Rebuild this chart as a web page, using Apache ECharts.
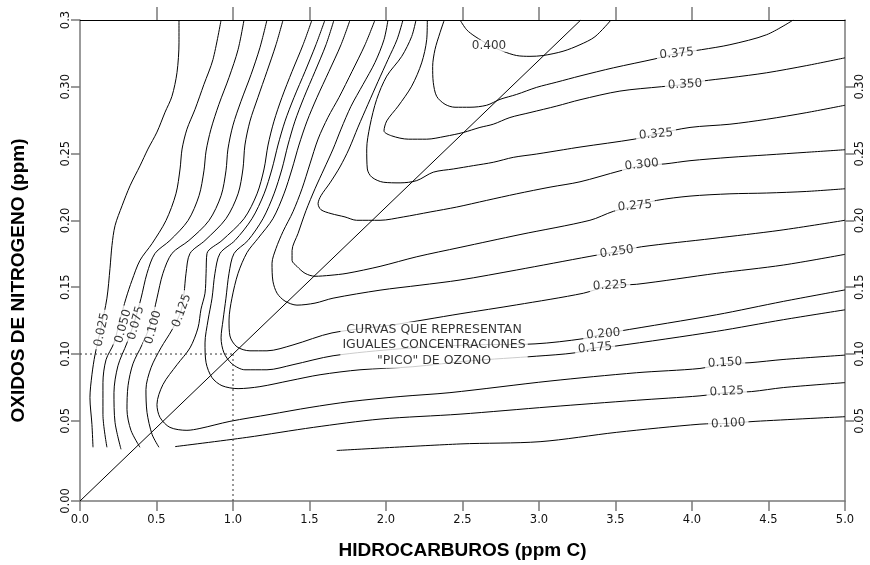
<!DOCTYPE html>
<html><head><meta charset="utf-8">
<script src="https://cdn.jsdelivr.net/npm/echarts@6/dist/echarts.min.js"></script>
<style>html,body{margin:0;padding:0;background:#fff}#c{width:870px;height:565px}</style>
</head><body><div id="c"></div>
<script>
// ---- axis ticks ----
const xTicks = [0,0.5,1,1.5,2,2.5,3,3.5,4,4.5,5];
const yTickValues = [-0.01,0.05,0.10,0.15,0.20,0.25,0.30,0.35];
const yTickLabels = ['0.00','0.05','0.10','0.15','0.20','0.25','0.30','0.3'];
const yRightValues = [0.05,0.10,0.15,0.20,0.25,0.30];

// ---- contour lines (HC ppmC, NOx ppm) ----
const c025 = [[0.647,0.35],[0.647,0.333],[0.634,0.3107],[0.601,0.2929],[0.556,0.281],[0.503,0.2661],[0.444,0.2534],[0.392,0.2408],[0.327,0.2259],[0.275,0.211],[0.229,0.1961],[0.209,0.1813],[0.196,0.1641],[0.176,0.1418],[0.137,0.1195],[0.098,0.0994],[0.078,0.0845],[0.065,0.0674],[0.078,0.0473],[0.085,0.0302]];
const c050 = [[0.922,0.35],[0.869,0.3204],[0.810,0.3018],[0.752,0.2832],[0.699,0.2683],[0.667,0.2534],[0.654,0.2385],[0.627,0.2199],[0.562,0.1999],[0.471,0.1827],[0.392,0.1701],[0.340,0.1552],[0.301,0.1418],[0.261,0.1254],[0.222,0.1083],[0.170,0.0957],[0.150,0.0786],[0.150,0.0548],[0.176,0.0302]];
const c075 = [[1.072,0.35],[1.033,0.3278],[0.974,0.307],[0.908,0.2869],[0.856,0.2683],[0.824,0.2519],[0.810,0.2371],[0.778,0.2185],[0.706,0.1999],[0.588,0.185],[0.490,0.1753],[0.438,0.1604],[0.399,0.1418],[0.359,0.1254],[0.307,0.1083],[0.248,0.0912],[0.222,0.0711],[0.229,0.0488],[0.268,0.0287]];
const c100 = [[1.222,0.35],[1.176,0.3293],[1.118,0.3092],[1.052,0.2891],[1.000,0.2713],[0.967,0.2534],[0.954,0.2371],[0.922,0.2185],[0.843,0.1999],[0.712,0.185],[0.601,0.1753],[0.542,0.1604],[0.503,0.1418],[0.464,0.1232],[0.405,0.1068],[0.346,0.0927],[0.314,0.0763],[0.307,0.0585],[0.333,0.0429],[0.392,0.0302]];
const c100b = [[1.678,0.0278],[2.484,0.0327],[3.007,0.0344],[3.508,0.0414],[4.052,0.0475],[4.237,0.0481],[4.412,0.0496],[5.0,0.0531]];
const c125 = [[1.327,0.35],[1.281,0.3315],[1.222,0.3115],[1.163,0.2921],[1.111,0.2743],[1.078,0.2564],[1.065,0.2385],[1.033,0.2199],[0.954,0.2013],[0.817,0.185],[0.719,0.1753],[0.693,0.1604],[0.680,0.1455],[0.660,0.1321],[0.601,0.118],[0.529,0.1046],[0.464,0.0897],[0.431,0.0734],[0.438,0.0563],[0.471,0.0399],[0.516,0.0302]];
const c125b = [[0.621,0.0307],[1.090,0.0376],[1.525,0.0451],[1.961,0.0513],[2.484,0.055],[3.072,0.0605],[3.638,0.0654],[4.052,0.0687],[4.227,0.0711],[4.390,0.0719],[4.597,0.0749],[5.0,0.0786]];
const c150 = [[1.516,0.35],[1.458,0.3315],[1.386,0.3115],[1.320,0.2921],[1.268,0.2743],[1.229,0.2564],[1.203,0.2385],[1.157,0.2199],[1.072,0.2013],[0.928,0.185],[0.830,0.1753],[0.824,0.1604],[0.817,0.1455],[0.791,0.1336],[0.771,0.1195],[0.719,0.1046],[0.634,0.092],[0.542,0.0771],[0.503,0.0622],[0.523,0.0525],[0.588,0.0451],[0.699,0.0429],[0.784,0.0443],[0.980,0.0496],[1.242,0.0548],[1.503,0.06],[1.765,0.0644],[2.092,0.0682],[2.418,0.0711],[3.072,0.0798],[3.638,0.086],[4.052,0.0892],[4.216,0.0927],[4.379,0.0935],[4.595,0.0959],[5.0,0.0992]];
const c175 = [[1.601,0.35],[1.542,0.3315],[1.471,0.3115],[1.399,0.2921],[1.340,0.2743],[1.294,0.2564],[1.255,0.2385],[1.203,0.2199],[1.124,0.2013],[1.013,0.185],[0.915,0.1753],[0.882,0.1604],[0.863,0.1418],[0.837,0.1254],[0.817,0.1083],[0.824,0.0935],[0.863,0.0823],[0.928,0.0763],[1.033,0.0741],[1.176,0.0756],[1.373,0.0801],[1.569,0.0845],[1.830,0.0882],[2.176,0.0905],[2.549,0.0949],[2.985,0.0984],[3.235,0.1009],[3.366,0.1046],[3.497,0.1059],[4.161,0.117],[4.597,0.1257],[5.0,0.1331]];
const c200 = [[1.660,0.35],[1.608,0.3315],[1.536,0.3115],[1.464,0.2921],[1.405,0.2743],[1.359,0.2564],[1.320,0.2385],[1.268,0.2199],[1.196,0.2013],[1.098,0.185],[1.007,0.1753],[0.974,0.1604],[0.954,0.1418],[0.935,0.1254],[0.922,0.1121],[0.941,0.1009],[0.993,0.0927],[1.078,0.0882],[1.222,0.0882],[1.392,0.092],[1.654,0.0987],[2.092,0.1039],[2.549,0.1068],[2.974,0.1076],[3.290,0.1115],[3.420,0.115],[3.518,0.117],[4.161,0.1294],[4.597,0.1394],[5.0,0.148]];
const c225 = [[1.765,0.35],[1.706,0.3315],[1.627,0.3115],[1.549,0.2921],[1.484,0.2743],[1.431,0.2564],[1.386,0.2385],[1.333,0.2199],[1.261,0.2013],[1.163,0.1865],[1.092,0.176],[1.033,0.1604],[0.993,0.1418],[0.974,0.1254],[0.980,0.1135],[1.026,0.1054],[1.111,0.1024],[1.222,0.1024],[1.392,0.1068],[1.647,0.1158],[2.039,0.1217],[2.484,0.1301],[2.854,0.1368],[3.290,0.1455],[3.464,0.1513],[3.638,0.1522],[4.161,0.1604],[4.597,0.1666],[5.0,0.1746]];
const c250 = [[1.928,0.35],[1.863,0.3315],[1.778,0.3115],[1.693,0.2921],[1.621,0.2772],[1.556,0.2609],[1.503,0.2423],[1.451,0.2237],[1.392,0.2065],[1.327,0.1917],[1.281,0.179],[1.255,0.1679],[1.261,0.1545],[1.288,0.1455],[1.340,0.1396],[1.418,0.1366],[1.536,0.1381],[1.654,0.1418],[1.961,0.1478],[2.222,0.1515],[2.484,0.1554],[2.854,0.1629],[3.333,0.1731],[3.508,0.1766],[3.671,0.1803],[4.137,0.1865],[4.575,0.1926],[5.0,0.2001]];
const c275 = [[2.013,0.35],[1.987,0.3353],[1.928,0.3182],[1.850,0.3018],[1.771,0.2854],[1.706,0.2683],[1.654,0.2534],[1.595,0.2385],[1.536,0.2237],[1.477,0.2073],[1.425,0.1902],[1.386,0.1775],[1.386,0.1701],[1.418,0.1656],[1.471,0.1604],[1.536,0.1582],[1.634,0.1589],[1.745,0.1604],[1.961,0.1656],[2.201,0.1728],[2.484,0.1798],[2.876,0.1894],[3.333,0.2001],[3.486,0.2068],[3.627,0.2108],[3.769,0.215],[3.987,0.2182],[4.248,0.2199],[4.488,0.2205],[4.750,0.2217],[5.0,0.2237]];
const c300 = [[2.111,0.35],[2.072,0.3353],[2.013,0.3204],[1.948,0.304],[1.882,0.2869],[1.817,0.2698],[1.758,0.2534],[1.699,0.24],[1.634,0.2281],[1.575,0.2185],[1.556,0.2125],[1.575,0.208],[1.641,0.2051],[1.732,0.2026],[1.808,0.2001],[1.961,0.2001],[2.113,0.2026],[2.288,0.2063],[2.462,0.21],[2.658,0.215],[2.854,0.2199],[3.072,0.2249],[3.268,0.2289],[3.529,0.2371],[3.671,0.241],[3.824,0.2423],[3.987,0.2447],[4.248,0.2472],[4.488,0.249],[4.750,0.251],[5.0,0.2529]];
const c325 = [[2.196,0.35],[2.168,0.3377],[2.103,0.3228],[2.005,0.308],[1.939,0.2906],[1.895,0.2708],[1.874,0.2535],[1.878,0.2385],[1.907,0.2324],[1.982,0.2286],[2.092,0.2281],[2.201,0.2298],[2.309,0.2361],[2.440,0.2385],[2.571,0.241],[2.701,0.2435],[2.832,0.2472],[2.985,0.2497],[3.159,0.2529],[3.268,0.2549],[3.627,0.2609],[3.765,0.2646],[3.987,0.2696],[4.248,0.272],[4.488,0.2757],[4.750,0.2807],[5.0,0.2862]];
const c350 = [[2.270,0.35],[2.266,0.3353],[2.233,0.3179],[2.168,0.3005],[2.080,0.2856],[2.005,0.2745],[1.987,0.267],[2.037,0.2633],[2.146,0.2608],[2.266,0.2608],[2.386,0.2629],[2.505,0.2658],[2.614,0.2696],[2.701,0.272],[2.810,0.277],[2.941,0.2807],[3.116,0.2856],[3.268,0.2903],[3.529,0.2968],[3.802,0.3001],[3.954,0.3018],[4.063,0.3042],[4.248,0.3068],[4.488,0.3105],[4.750,0.3159],[5.0,0.3217]];
const c375 = [[2.381,0.35],[2.353,0.3405],[2.320,0.3278],[2.305,0.3152],[2.309,0.3033],[2.331,0.2929],[2.386,0.2869],[2.451,0.2847],[2.549,0.2847],[2.658,0.2862],[2.745,0.2906],[2.854,0.2943],[2.985,0.2996],[3.116,0.3035],[3.268,0.3081],[3.486,0.3142],[3.758,0.3209],[3.900,0.3249],[4.063,0.3278],[4.248,0.3315],[4.488,0.339],[4.662,0.35]];
const c400 = [[2.484,0.35],[2.527,0.3427],[2.582,0.3377],[2.673,0.3315],[2.765,0.3266],[2.854,0.3234],[2.941,0.3228],[3.026,0.3234],[3.157,0.3266],[3.268,0.3315],[3.366,0.3375],[3.471,0.35]];
const contours = [c025,c050,c075,c100,c100b,c125,c125b,c150,c175,c200,c225,c250,c275,c300,c325,c350,c375,c400];

// ---- contour labels ----
const labelX = [0.142,0.283,0.366,0.479,0.665,2.673,3.900,3.954,3.765,3.671,3.627,3.508,3.464,3.420,3.366,4.216,4.227,4.237];
const labelY = [0.1182,0.1208,0.1232,0.1200,0.1324,0.3308,0.3249,0.3018,0.2646,0.2417,0.2108,0.1766,0.1513,0.1150,0.1046,0.0935,0.0719,0.0481];
const labelText = ['0.025','0.050','0.075','0.100','0.125','0.400','0.375','0.350','0.325','0.300','0.275','0.250','0.225','0.200','0.175','0.150','0.125','0.100'];
const labelAngle = [78,75,75,75,70,0,5,3,5,6,5,8,3,5,5,3,3,3];

// ---- reference lines & note ----
const diagonal = [[0,-0.01],[3.273,0.35]];
const guideH = [[0,0.10],[1.0,0.10]];
const guideV = [[1.0,-0.01],[1.0,0.10]];
const noteLines = ['CURVAS QUE REPRESENTAN','IGUALES CONCENTRACIONES','"PICO" DE OZONO'];
const notePos = [2.314,0.1068];

const chart = echarts.init(document.getElementById('c'), null, {renderer:'canvas'});
const gray = '#7a7a7a';
const tickFont = {fontFamily:'DejaVu Sans', fontSize:11.5, color:'#111'};
const series = [];
contours.forEach(c => series.push({type:'line', data:c, showSymbol:false, smooth:0.3, silent:true,
  lineStyle:{color:'#000', width:1}, z:2}));
series.push({type:'line', data:diagonal, showSymbol:false, lineStyle:{color:'#000', width:1}, z:2, silent:true});
series.push({type:'line', data:guideH, showSymbol:false, lineStyle:{color:'#333', width:1, type:[2,3]}, z:2, silent:true});
series.push({type:'line', data:guideV, showSymbol:false, lineStyle:{color:'#333', width:1, type:[2,3]}, z:2, silent:true});
series.push({type:'scatter', symbolSize:0, z:5, silent:true,
  data: labelText.map((t,i)=>({value:[labelX[i],labelY[i]], label:{show:true, formatter:t, rotate:labelAngle[i]}})),
  label:{position:'inside', fontFamily:'DejaVu Sans', fontSize:12, color:'#000', backgroundColor:'#fff', padding:[0,3]}});
series.push({type:'scatter', symbolSize:0, z:5, silent:true,
  data:[{value:notePos, label:{show:true, formatter:noteLines.join('\n')}}],
  label:{position:'inside', fontFamily:'DejaVu Sans', fontSize:12.5, lineHeight:15.5, color:'#000', backgroundColor:'#fff', padding:[0,2], align:'center'}});

chart.setOption({
  animation:false,
  backgroundColor:'#fff',
  grid:{left:80, right:25, top:20, bottom:61},
  xAxis:[{type:'value', position:'bottom', min:0, max:5, interval:0.5,
    name:'HIDROCARBUROS (ppm C)', nameLocation:'middle', nameGap:40,
    nameTextStyle:{fontFamily:'Liberation Sans', fontWeight:'bold', fontSize:19, color:'#000'},
    axisLine:{onZero:false, lineStyle:{color:gray, width:1.5}}, axisTick:{inside:false, length:10, lineStyle:{color:gray, width:1.5}},
    axisLabel:Object.assign({margin:13, formatter:v=>v.toFixed(1)}, tickFont), splitLine:{show:false}},
   {type:'value', position:'top', min:0, max:5, interval:0.5,
    axisLine:{onZero:false, lineStyle:{color:'#000', width:1.2}}, axisTick:{inside:false, length:13, lineStyle:{color:gray, width:1.5},
      customValues:[0.5,1,1.5,2,2.5,3,3.5,4,4.5]}, axisLabel:{show:false}, splitLine:{show:false}}],
  yAxis:[{type:'value', position:'left', min:-0.01, max:0.35,
    name:'OXIDOS DE NITROGENO (ppm)', nameLocation:'middle', nameGap:52, nameRotate:90,
    nameTextStyle:{fontFamily:'Liberation Sans', fontWeight:'bold', fontSize:19, color:'#000', padding:[0,40,0,0]},
    axisLine:{onZero:false, lineStyle:{color:gray, width:1.5}}, axisTick:{length:9, lineStyle:{color:gray, width:1.5}, customValues:yTickValues},
    axisLabel:Object.assign({rotate:90, margin:8, customValues:yTickValues,
      formatter:v=>{const i=yTickValues.findIndex(t=>Math.abs(t-v)<1e-6); return i>=0?yTickLabels[i]:'';}}, tickFont),
    splitLine:{show:false}},
   {type:'value', position:'right', min:-0.01, max:0.35,
    axisLine:{onZero:false, lineStyle:{color:gray, width:1.5}}, axisTick:{length:9, lineStyle:{color:gray, width:1.5}, customValues:yRightValues},
    axisLabel:Object.assign({rotate:90, margin:9, customValues:yRightValues, formatter:v=>v.toFixed(2)}, tickFont),
    splitLine:{show:false}}],
  series:series
});
</script></body></html>
